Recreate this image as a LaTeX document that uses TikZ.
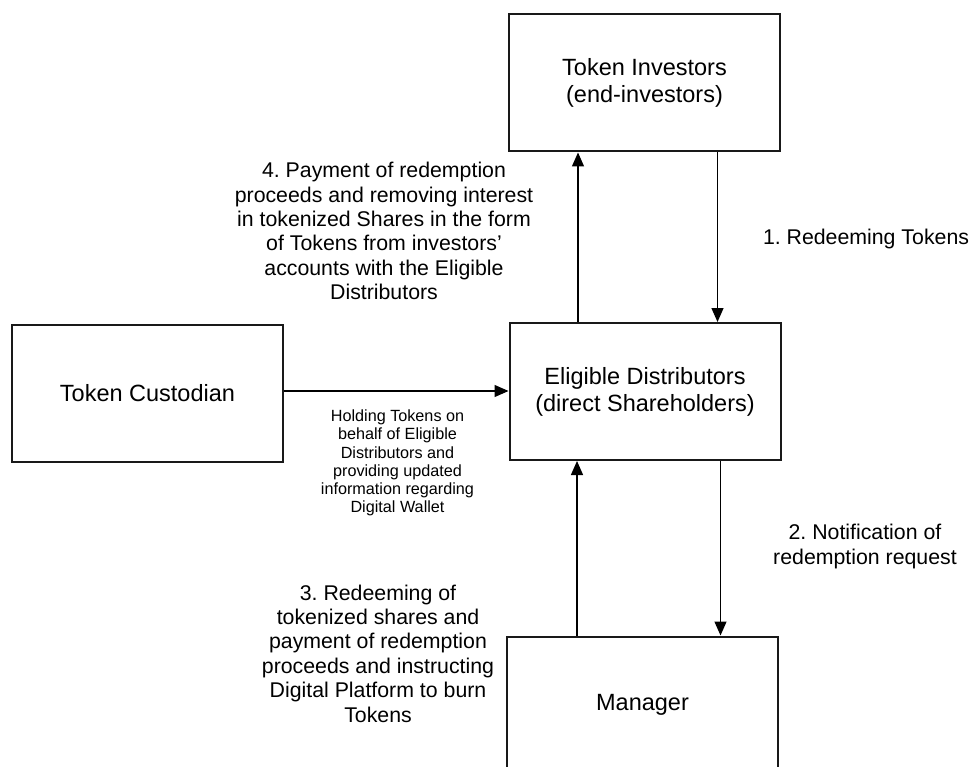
\documentclass[tikz,border=0pt]{standalone}
\usepackage{fontspec}
\setmainfont{Liberation Sans}
\usetikzlibrary{arrows.meta}
\frenchspacing
\begin{document}
\begin{tikzpicture}[x=1pt,y=-1pt,
  box/.style={draw=black!90,line width=2pt,rectangle,inner sep=0pt,
    minimum width=271pt,minimum height=137pt,align=center,
    font=\frenchspacing\fontsize{23.5}{27}\selectfont},
  lab/.style={align=center,inner sep=0pt,font=\frenchspacing\fontsize{21.3}{24.4}\selectfont},
  smalllab/.style={align=center,inner sep=0pt,font=\frenchspacing\fontsize{16.2}{18.3}\selectfont},
  arr/.style={line width=1.3pt,-{Triangle[length=14pt,width=12pt]}}]
\useasboundingbox (0,0) rectangle (971,767);
\node[box] (TI) at (644.5,83) {Token Investors\\(end-investors)};
\node[box] (ED) at (645,391.5) {Eligible Distributors\\(direct Shareholders)};
\node[box] (TC) at (147.5,393) {Token Custodian};
\begin{scope}
\clip (0,0) rectangle (971,767);
\node[box] (MG) at (642.5,705) {Manager};
\end{scope}
\coordinate (a4) at ([xshift=-67pt]ED.north);
\coordinate (a1) at ([xshift=73pt]TI.south);
\coordinate (a3) at ([xshift=-65.5pt]MG.north);
\coordinate (a2) at ([xshift=75.5pt]ED.south);
\draw[arr] (a4) -- (a4 |- TI.south);
\draw[arr] (a1) -- (a1 |- ED.north);
\draw[arr] (a3) -- (a3 |- ED.south);
\draw[arr] (a2) -- (a2 |- MG.north);
\coordinate (h0) at ([yshift=2pt]TC.east);
\draw[arr] (h0) -- (h0 -| ED.west);
\node[lab] (l4) at (384,231) {4. Payment of redemption\\proceeds and removing interest\\in tokenized Shares in the form\\of Tokens from investors’\\accounts with the Eligible\\Distributors};
\node[lab,anchor=base] (l1) at (866,244) {1. Redeeming Tokens};
\node[lab] (l2) at (865,546.5) {2. Notification of\\redemption request};
\node[lab] (l3) at (378,653.5) {3. Redeeming of\\tokenized shares and\\payment of redemption\\proceeds and instructing\\Digital Platform to burn\\Tokens};
\node[smalllab] (lh) at (397.5,463) {Holding Tokens on\\behalf of Eligible\\Distributors and\\providing updated\\information regarding\\Digital Wallet};
\end{tikzpicture}
\end{document}
